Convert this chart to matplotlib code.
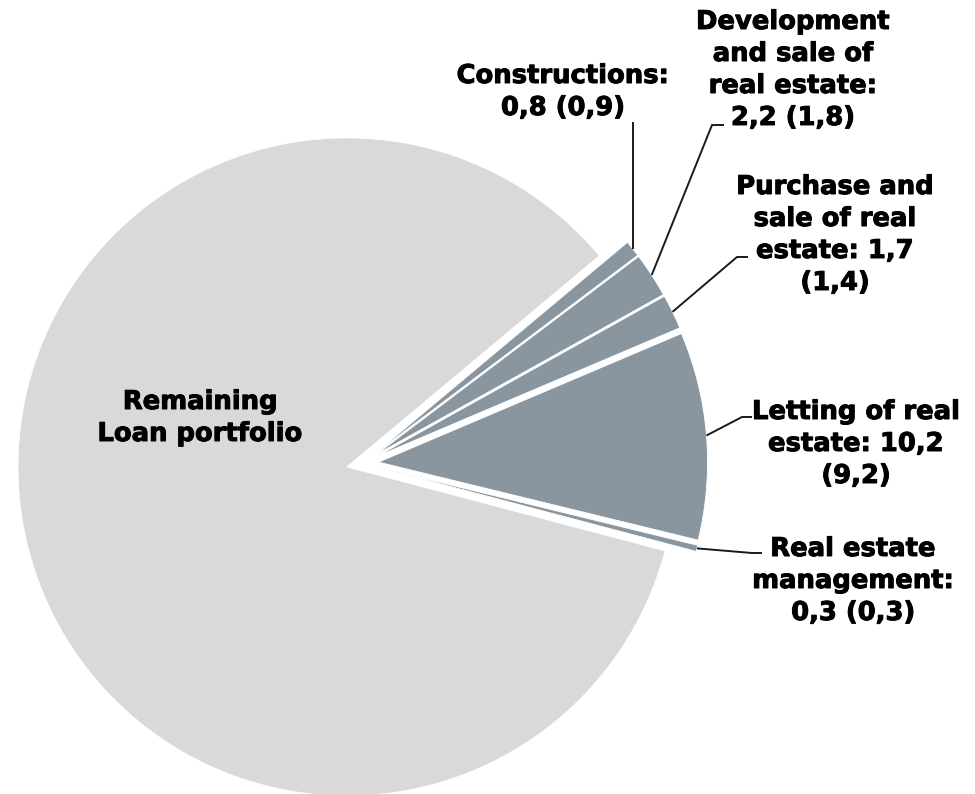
import numpy as np
import matplotlib.pyplot as plt
import matplotlib.patheffects as pe

# real estate exposure, % of loan portfolio (previous year in brackets)
names = ["Real estate\nmanagement:", "Letting of real\nestate:", "Purchase and\nsale of real\nestate:",
         "Development\nand sale of\nreal estate:", "Constructions:"]
shares = [0.3, 10.2, 1.7, 2.2, 0.8]
shares_prev = [0.3, 9.2, 1.4, 1.8, 0.9]
sep_value = ["\n", " ", " ", "\n", "\n"]
sep_prev = [" ", "\n", "\n", " ", " "]
remaining_name = "Remaining\nLoan portfolio"
remaining = 100 - sum(shares)

slate = "#8a969f"
light = "#d9d9d9"


def fmt(v):
    return f"{v:.1f}".replace(".", ",")


labels = [f"{n}{s1}{fmt(v)}{s2}({fmt(p)})"
          for n, s1, v, s2, p in zip(names, sep_value, shares, sep_prev, shares_prev)]

fig = plt.figure(figsize=(9.75, 7.94), dpi=100)
ax = fig.add_axes([0, 0, 1, 1])

H = 794
wedges, _ = ax.pie(shares + [remaining], explode=[16] * 6, startangle=-14.8,
                   colors=[slate] * 5 + [light], radius=329, center=(362.6, H - 463.4),
                   frame=True, wedgeprops=dict(edgecolor="white", linewidth=0.6))
ax.set_xlim(0, 975)
ax.set_ylim(0, H)
ax.set_aspect("equal")
ax.axis("off")

# label layout in pixel coordinates (y from top)
elbows = [(752, 553), (742, 417), (737, 257), (712, 125), (None, 122)]
ends = [(762, 553), (752, 417), (748, 257), (724, 125), (None, 122)]
text_pos = [(853, 581), (856, 444), (835, 235), (793, 70), (563, 92)]

font = dict(fontsize=18.6, fontweight="bold", family="DejaVu Sans", color="black",
            ha="center", va="center", linespacing=1.3,
            path_effects=[pe.withStroke(linewidth=0.7, foreground="black")])

for w, lab, el, en, tp in zip(wedges[:5], labels, elbows, ends, text_pos):
    mid = np.deg2rad((w.theta1 + w.theta2) / 2)
    ax0 = w.center[0] + w.r * np.cos(mid)
    ay0 = w.center[1] + w.r * np.sin(mid)
    ex = ax0 if el[0] is None else el[0]
    nx = ax0 if en[0] is None else en[0]
    ax.plot([ax0, ex, nx], [ay0, H - el[1], H - en[1]], color="#1a1a1a", lw=1.4,
            solid_capstyle="butt")
    ax.text(tp[0], H - tp[1], lab, **font)

ax.text(200, H - 418, remaining_name, **font)

fig.savefig("out.png", dpi=100)
